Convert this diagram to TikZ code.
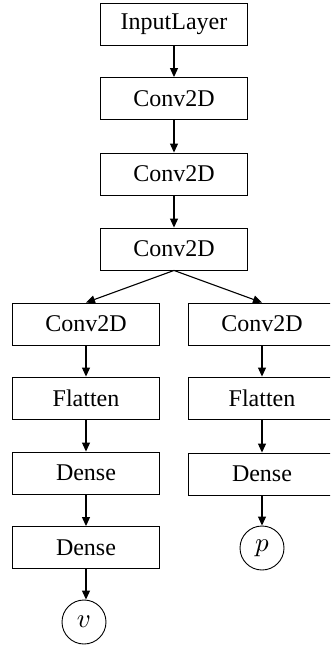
\documentclass[tikz,border=0pt]{standalone}
\usepackage{fontspec}
\setmainfont{Liberation Serif}
\usetikzlibrary{arrows.meta}
\newcommand{\outsym}[1]{\scalebox{2.7}{$#1$}}
\tikzset{
  layer/.style={draw, line width=0.9pt, minimum width=147pt, minimum height=42pt,
    inner sep=0pt, font=\fontsize{24}{24}\selectfont},
  outnode/.style={draw, circle, line width=0.9pt, minimum size=44pt, inner sep=0pt},
  flow/.style={line width=1.1pt, -{Triangle[length=9pt,width=8pt]}}
}
\begin{document}
\begin{tikzpicture}[x=1pt,y=-1pt]
  \clip (0,0) rectangle (330,646);
  \useasboundingbox (0,0) rectangle (330,646);
  % trunk
  \node[layer] (in) at (174,24) {InputLayer};
  \node[layer] (c1) at (174,98.5) {Conv2D};
  \node[layer] (c2) at (174,174) {Conv2D};
  \node[layer] (c3) at (174,249) {Conv2D};
  % value head
  \node[layer] (lc) at (86,324) {Conv2D};
  \node[layer] (lf) at (86,398) {Flatten};
  \node[layer] (ld1) at (86,473) {Dense};
  \node[layer] (ld2) at (86,547.5) {Dense};
  \node[outnode] (v) at (84,622) {\outsym{v}};
  % policy head
  \node[layer] (rc) at (262,324) {Conv2D};
  \node[layer] (rf) at (262,398) {Flatten};
  \node[layer] (rd) at (262,474) {Dense};
  \node[outnode] (p) at (262,548) {\outsym{p}};
  % connectors
  \draw[flow] (in) -- (c1);
  \draw[flow] (c1) -- (c2);
  \draw[flow] (c2) -- (c3);
  \draw[flow] (c3.south) -- (lc.north);
  \draw[flow] (c3.south) -- (rc.north);
  \draw[flow] (lc) -- (lf);
  \draw[flow] (lf) -- (ld1);
  \draw[flow] (ld1) -- (ld2);
  \draw[flow] (ld2.south) -- (ld2.south |- v.north);
  \draw[flow] (rc) -- (rf);
  \draw[flow] (rf) -- (rd);
  \draw[flow] (rd) -- (p);
\end{tikzpicture}
\end{document}
